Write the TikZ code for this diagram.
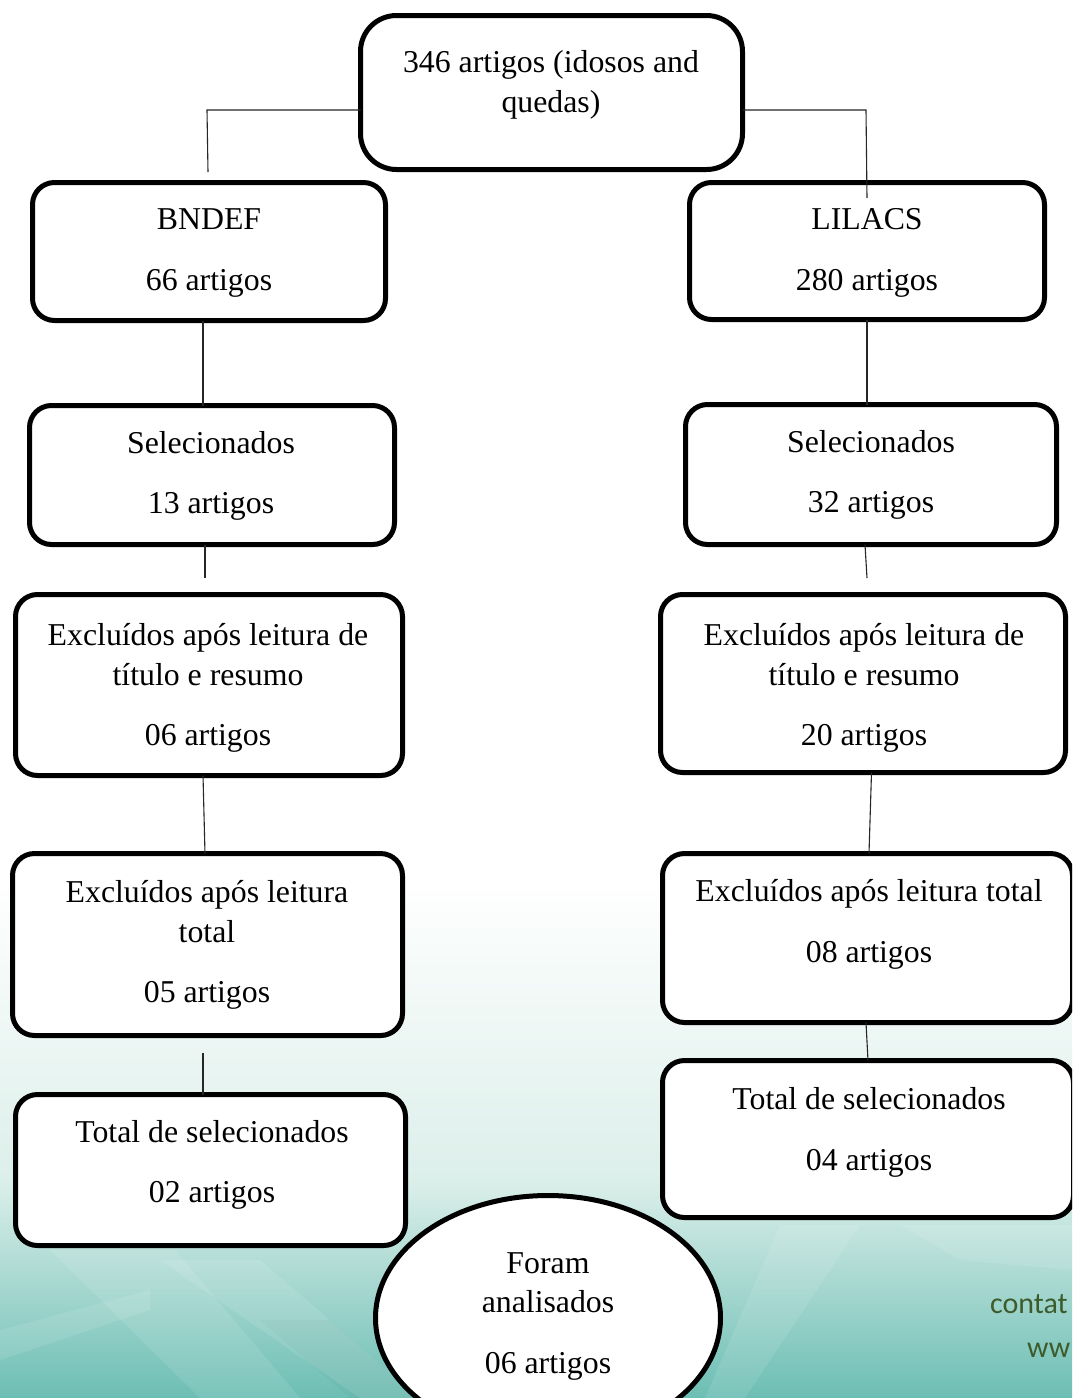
\documentclass[tikz,border=0pt]{standalone}
\usepackage{fontspec}
\setmainfont{Liberation Serif}
\newfontfamily\wmfont{Carlito}
\usetikzlibrary{shapes.geometric,shadows}
\definecolor{tealA}{HTML}{DCEFEA}
\definecolor{tealB}{HTML}{6CBEB4}
\definecolor{wmgreen}{HTML}{3D5B2C}
\tikzset{
  box/.style={draw=black, line width=5pt, fill=white, rounded corners=22pt,
    inner sep=0pt, outer sep=0pt,
    drop shadow={shadow xshift=1.5pt, shadow yshift=-2pt, opacity=0.35, fill=black}},
  topbox/.style={box, rounded corners=36pt},
  oval/.style={draw=black, line width=5pt, fill=white, ellipse, inner sep=0pt, outer sep=0pt},
  txt/.style={font=\fontsize{31.8}{38}\selectfont, anchor=base, inner sep=0pt},
  wm/.style={font=\wmfont\fontsize{30}{36}\selectfont, text=wmgreen, anchor=base west, inner sep=0pt},
  link/.style={draw=black!85, line width=1.1pt},
  streak/.style={fill=white, opacity=0.10, draw=none}
}
\begin{document}
\begin{tikzpicture}[x=1pt,y=-1pt]
\useasboundingbox (0,0) rectangle (1072,1398);
\clip (0,0) rectangle (1072,1398);
% background
\fill[white] (0,0) rectangle (1072,881);
\shade[top color=white, bottom color=tealA] (0,880) rectangle (1072,1181);
\shade[top color=tealA, bottom color=tealB] (0,1180) rectangle (1072,1398);
\fill[streak] (50,1250) -- (175,1250) -- (300,1398) -- (200,1398) -- cycle;
\fill[streak] (160,1260) -- (260,1260) -- (420,1398) -- (360,1398) -- cycle;
\fill[streak] (780,1225) -- (860,1225) -- (745,1398) -- (705,1398) -- cycle;
\fill[streak] (0,1330) -- (150,1290) -- (150,1310) -- (0,1360) -- cycle;
\fill[black, opacity=0.025] (260,1320) -- (330,1320) -- (420,1398) -- (350,1398) -- cycle;
\fill[streak] (900,1225) -- (1072,1225) -- (1072,1270) -- (960,1260) -- cycle;
% watermark text
\node[wm] (wm1) at (990,1313) {contat};
\node[wm] (wm2) at (1027,1357) {ww};

% boxes
\node[topbox, minimum width=382pt, minimum height=154pt] (top) at (551.5,92.5) {};
\node[box, minimum width=353pt, minimum height=138pt] (bndef) at (209,251.5) {};
\node[box, minimum width=355pt, minimum height=137pt] (lilacs) at (867,251) {};
\node[box, minimum width=365pt, minimum height=139pt] (selL) at (212,475) {};
\node[box, minimum width=371pt, minimum height=140pt] (selR) at (871,474.5) {};
\node[box, minimum width=387pt, minimum height=181pt] (excAL) at (209,685) {};
\node[box, minimum width=405pt, minimum height=178pt] (excAR) at (863,683.5) {};
\node[box, minimum width=390pt, minimum height=182pt] (excBL) at (207.5,944.5) {};
\node[box, minimum width=410pt, minimum height=169pt] (excBR) at (867.5,938) {};
\node[box, minimum width=390pt, minimum height=151pt] (totL) at (210.5,1170) {};
\node[box, minimum width=411pt, minimum height=157pt] (totR) at (868,1139) {};

% texts
\node[txt] (t1) at (551,72) {346 artigos (idosos and};
\node[txt] (t2) at (551,112) {quedas)};
\node[txt] (b1) at (209,229) {BNDEF};
\node[txt] (b2) at (209,290) {66 artigos};
\node[txt] (l1) at (867,229) {LILACS};
\node[txt] (l2) at (867,290) {280 artigos};
\node[txt] (sl1) at (211,453) {Selecionados};
\node[txt] (sl2) at (211,513) {13 artigos};
\node[txt] (sr1) at (871,452) {Selecionados};
\node[txt] (sr2) at (871,512) {32 artigos};
\node[txt] (eal1) at (208,645) {Excluídos após leitura de};
\node[txt] (eal2) at (208,685) {título e resumo};
\node[txt] (eal3) at (208,745) {06 artigos};
\node[txt] (ear1) at (864,645) {Excluídos após leitura de};
\node[txt] (ear2) at (864,685) {título e resumo};
\node[txt] (ear3) at (864,745) {20 artigos};
\node[txt] (ebl1) at (207,902) {Excluídos após leitura};
\node[txt] (ebl2) at (207,942) {total};
\node[txt] (ebl3) at (207,1002) {05 artigos};
\node[txt] (ebr1) at (869,901) {Excluídos após leitura total};
\node[txt] (ebr2) at (869,962) {08 artigos};
\node[txt] (tl1) at (212,1142) {Total de selecionados};
\node[txt] (tl2) at (212,1202) {02 artigos};
\node[txt] (tr1) at (869,1109) {Total de selecionados};
\node[txt] (tr2) at (869,1170) {04 artigos};

% connectors
\coordinate (ka) at (207,110);
\coordinate (kb) at (208,172);
\coordinate (kc) at (866,110);
\coordinate (kd) at (867,198);
\coordinate (ke) at (205,578);
\coordinate (kf) at (867,578);
\coordinate (kg) at (203,1053);
\draw[link] (top.west |- ka) -- (ka) -- (kb);
\draw[link] (top.east |- kc) -- (kc) -- (kd);
\draw[link] ([xshift=-6pt]bndef.south) -- ([xshift=-9pt]selL.north);
\draw[link] ([xshift=-7pt]selL.south) -- (ke);
\draw[link] ([xshift=-6pt]excAL.south) -- ([xshift=-2.5pt]excBL.north);
\draw[link] (kg) -- ([xshift=-7.5pt]totL.north);
\draw[link] (lilacs.south) -- ([xshift=-4pt]selR.north);
\draw[link] ([xshift=-6pt]selR.south) -- (kf);
\draw[link] ([xshift=8.5pt]excAR.south) -- ([xshift=1.5pt]excBR.north);
\draw[link] ([xshift=-1.5pt]excBR.south) -- ([xshift=0pt]totR.north);

% final ellipse
\node[oval, minimum width=345pt, minimum height=245pt] (oval) at (548,1318) {};
\node[txt] (o1) at (548,1273) {Foram};
\node[txt] (o2) at (548,1312) {analisados};
\node[txt] (o3) at (548,1373) {06 artigos};
\end{tikzpicture}
\end{document}
